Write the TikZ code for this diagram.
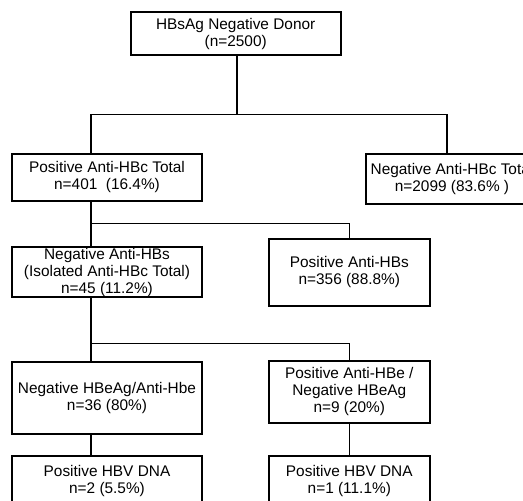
\documentclass[tikz,border=0pt]{standalone}
\usepackage{fontspec}
\setmainfont{Liberation Sans}
\begin{document}
\begin{tikzpicture}[x=1pt,y=-1pt,
  box/.style={draw=black,line width=1.9pt,inner sep=0pt,align=center,
    font=\fontsize{15.4}{17}\selectfont,text=black},
  conn/.style={draw=black,line width=1.6pt}]
\useasboundingbox (0,0) rectangle (523,501);
\fill[white] (0,0) rectangle (523,501);
\clip (0,0) rectangle (523,501);
\node[box,minimum width=210pt,minimum height=42.7pt] (top) at (235.7,33.7) {HBsAg Negative Donor\\(n=2500)};
\node[box,minimum width=190.6pt,minimum height=47.3pt] (pos) at (107,177.3) {Positive Anti-HBc Total\\n=401\ \ (16.4\%)};
\node[box,minimum width=172pt,minimum height=50pt] (neg) at (452,178.7) {Negative Anti-HBc Total\\n=2099 (83.6\% )};
\node[box,minimum width=190.6pt,minimum height=50pt] (isol) at (107,272.3) {Negative Anti-HBs\\(Isolated Anti-HBc Total)\\n=45 (11.2\%)};
\node[box,minimum width=161.3pt,minimum height=67pt] (poshbs) at (349.3,272.5) {Positive Anti-HBs\\n=356 (88.8\%)};
\node[box,minimum width=190.6pt,minimum height=72.6pt] (neghbe) at (107,398) {Negative HBeAg/Anti-Hbe\\n=36 (80\%)};
\node[box,minimum width=161.3pt,minimum height=61.7pt] (poshbe) at (349.3,391.8) {Positive Anti-HBe /\\Negative HBeAg\\n=9 (20\%)};
\node[box,minimum width=190.6pt,minimum height=50pt] (dnaa) at (107,481) {Positive HBV DNA\\n=2 (5.5\%)};
\node[box,minimum width=161.3pt,minimum height=50pt] (dnab) at (349.3,481) {Positive HBV DNA\\n=1 (11.1\%)};
\coordinate (j1) at (237,114.3);
\coordinate (j2) at (91.7,223.3);
\coordinate (j3) at (91.7,343.3);
\coordinate (nj) at (446.7,114.3);
\draw[conn] (top.south -| j1) -- (j1);
\draw[conn] ([xshift=80pt]pos.north west) |- (j1) -- (nj) -- (nj |- neg.north);
\draw[conn] ([xshift=80pt]pos.south west) -- ([xshift=80pt]isol.north west);
\draw[conn] (j2) -| (poshbs.north);
\draw[conn] ([xshift=80pt]isol.south west) -- ([xshift=80pt]neghbe.north west);
\draw[conn] (j3) -| (poshbe.north);
\draw[conn] ([xshift=80pt]neghbe.south west) -- ([xshift=80pt]dnaa.north west);
\draw[conn] (poshbe.south) -- (dnab.north);
\end{tikzpicture}
\end{document}
